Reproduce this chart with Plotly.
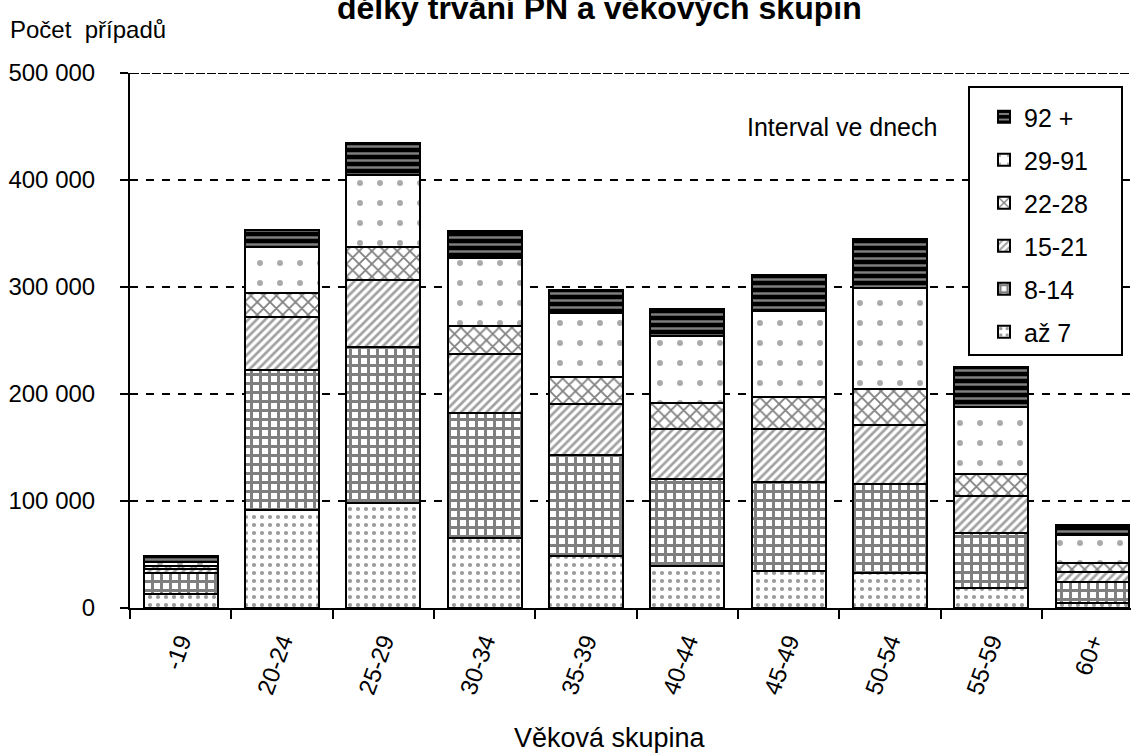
import plotly.graph_objects as go

categories = ["-19", "20-24", "25-29", "30-34", "35-39", "40-44", "45-49", "50-54", "55-59", "60+"]
series_names = ["až 7", "8-14", "15-21", "22-28", "29-91", "92 +"]
az7 = [13000, 92000, 98000, 65000, 49000, 39000, 35000, 33000, 19000, 5000]
d8_14 = [20000, 130000, 146000, 117000, 94000, 82000, 83000, 83000, 51000, 19000]
d15_21 = [3000, 50000, 63000, 55000, 48000, 46000, 49000, 55000, 35000, 10000]
d22_28 = [3000, 22000, 30000, 27000, 25000, 25000, 30000, 34000, 20000, 8000]
d29_91 = [4000, 43000, 68000, 63000, 60000, 62000, 81000, 94000, 63000, 26000]
d92 = [6000, 16000, 30000, 25000, 21000, 25000, 33000, 46000, 37000, 10000]
y_tickvals = [0, 100000, 200000, 300000, 400000, 500000]
y_ticktext = ["0", "100 000", "200 000", "300 000", "400 000", "500 000"]

FONT = "Liberation Sans, Arial, sans-serif"

# plot area in pixels
L, R, T, B = 130, 1131, 73, 608


def px_x(px):
    return (px - L) / (R - L)


def px_y(py):
    return (B - py) / (B - T)


patterns = [
    dict(shape=".", size=8, solidity=0.22, fgcolor="#333333", bgcolor="white", fillmode="overlay"),
    dict(shape="+", size=9, solidity=0.55, fgcolor="black", bgcolor="white", fillmode="overlay"),
    dict(shape="/", size=6, solidity=0.45, fgcolor="#444444", bgcolor="white", fillmode="overlay"),
    dict(shape="x", size=9, solidity=0.35, fgcolor="black", bgcolor="white", fillmode="overlay"),
    dict(shape=".", size=20, solidity=0.07, fgcolor="#555555", bgcolor="white", fillmode="overlay"),
    dict(shape="-", size=7, solidity=0.35, fgcolor="white", bgcolor="black", fillmode="overlay"),
]
values = [az7, d8_14, d15_21, d22_28, d29_91, d92]

fig = go.Figure()
n = len(series_names)
for i, (name, vals, pat) in enumerate(zip(series_names, values, patterns)):
    fig.add_trace(go.Bar(
        x=categories, y=vals, name=name,
        legendgroup=name, legendrank=n - i,
        marker=dict(color=pat["bgcolor"], pattern=pat,
                    line=dict(color="black", width=2)),
    ))

fig.update_layout(
    width=1131, height=755,
    margin=dict(l=L, r=1131 - R, t=T, b=755 - B),
    paper_bgcolor="white", plot_bgcolor="white",
    barmode="stack", bargap=0.27,
    font=dict(family=FONT, size=24, color="black"),
    showlegend=True,
    legend=dict(
        x=px_x(984), y=px_y(94), xanchor="left", yanchor="top",
        traceorder="grouped", tracegroupgap=7.5,
        bgcolor="rgba(0,0,0,0)", borderwidth=0,
        font=dict(family=FONT, size=25, color="black"),
        itemclick=False,
    ),
    xaxis=dict(
        type="category", range=[-0.5, 9.38],
        showline=True, linecolor="black", linewidth=2,
        ticks="outside", tickson="boundaries", ticklen=9, tickwidth=2, tickcolor="black",
        tickangle=-70, tickfont=dict(family=FONT, size=24), ticklabelstandoff=8,
        showgrid=False, zeroline=False,
    ),
    yaxis=dict(
        range=[0, 500000], tickvals=y_tickvals, ticktext=y_ticktext,
        showline=True, linecolor="black", linewidth=2,
        ticks="outside", ticklen=8, tickwidth=2, tickcolor="black",
        tickfont=dict(family=FONT, size=24), ticklabelstandoff=20,
        showgrid=True, gridcolor="black", gridwidth=2, griddash="8px,8px",
        zeroline=False,
    ),
    shapes=[
        dict(type="line", xref="paper", yref="y", x0=0, x1=1, y0=500000, y1=500000,
             line=dict(color="black", width=2, dash="9px,2px"), layer="above"),
        dict(type="rect", xref="paper", yref="paper",
             x0=px_x(969), x1=px_x(1122), y0=px_y(355), y1=px_y(87),
             fillcolor="white", line=dict(color="black", width=2), layer="above"),
    ],
    annotations=[
        dict(text="délky trvání PN a věkových skupin", xref="paper", yref="paper",
             x=px_x(599), y=px_y(28), xanchor="center", yanchor="bottom", showarrow=False,
             font=dict(family=FONT, size=32, color="black", weight="bold")),
        dict(text="Počet  případů", xref="paper", yref="paper",
             x=px_x(8), y=px_y(30), xanchor="left", yanchor="middle", showarrow=False,
             font=dict(family=FONT, size=24)),
        dict(text="Interval ve dnech", xref="paper", yref="paper",
             x=px_x(842), y=px_y(127), xanchor="center", yanchor="middle", showarrow=False,
             font=dict(family=FONT, size=25)),
        dict(text="Věková skupina", xref="paper", yref="paper",
             x=px_x(610), y=px_y(738), xanchor="center", yanchor="middle", showarrow=False,
             font=dict(family=FONT, size=27)),
    ],
)

fig.write_html("out.html", config={"displayModeBar": False},
               post_script="document.body.style.margin='0px';")
